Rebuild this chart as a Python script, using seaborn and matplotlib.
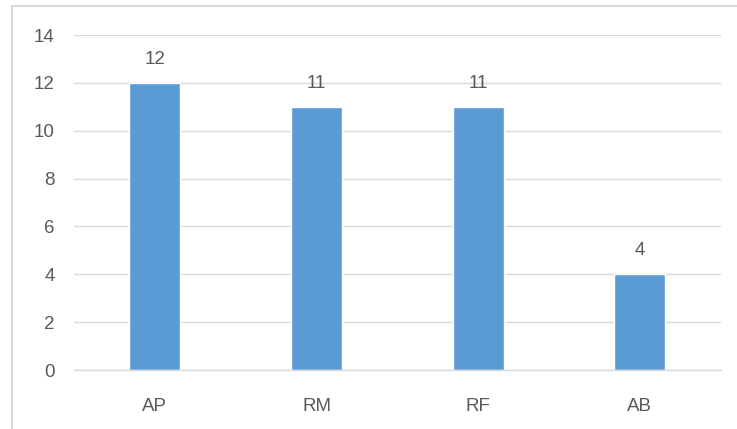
import matplotlib
matplotlib.use("Agg")
import matplotlib.pyplot as plt
import pandas as pd
import seaborn as sns
from matplotlib.lines import Line2D

# Data
categories = ["AP", "RM", "RF", "AB"]
values = [12, 11, 11, 4]
y_ticks = [0, 2, 4, 6, 8, 10, 12, 14]

df = pd.DataFrame({"cat": categories, "val": values})

# Colors:
bar_color = "#5B9BD5"
text_color = "#595959"
grid_color = "#D9D9D9"

sns.set_style("white")
plt.rcParams["font.family"] = ["Liberation Sans", "DejaVu Sans"]

fig = plt.figure(figsize=(7.37, 4.29), dpi=100)
fig.set_facecolor("white")
ax = fig.add_axes([0.1004, 0.1375, 0.8776, 0.7809])

sns.barplot(data=df, x="cat", y="val", color=bar_color, saturation=1,
            width=0.315, ax=ax)

ax.set_ylim(0, 14)
ax.set_xlim(-0.5, 3.5)
ax.set_yticks(y_ticks)
ax.yaxis.grid(True, color=grid_color, linewidth=1)
ax.set_axisbelow(True)
ax.spines[["left", "right", "top"]].set_visible(False)
ax.spines["bottom"].set(color=grid_color, linewidth=1)
ax.set_xlabel("")
ax.set_ylabel("")
ax.tick_params("both", length=0, labelsize=13.5, labelcolor=text_color)
ax.tick_params("y", pad=14)
ax.tick_params("x", pad=20)

# value labels
for i, v in enumerate(values):
    ax.annotate(str(v), (i, v), xytext=(0, 11), textcoords="offset points",
                ha="center", va="bottom", fontsize=13.5, color=text_color)

# chart border (left and top visible)
fig.add_artist(Line2D([11.5 / 737, 11.5 / 737], [0, 1 - 6 / 429],
                      transform=fig.transFigure, color="#D9D9D9", lw=1.5))
fig.add_artist(Line2D([11.5 / 737, 1], [1 - 6 / 429, 1 - 6 / 429],
                      transform=fig.transFigure, color="#D9D9D9", lw=1.5))

plt.savefig("out.png", dpi=100)
